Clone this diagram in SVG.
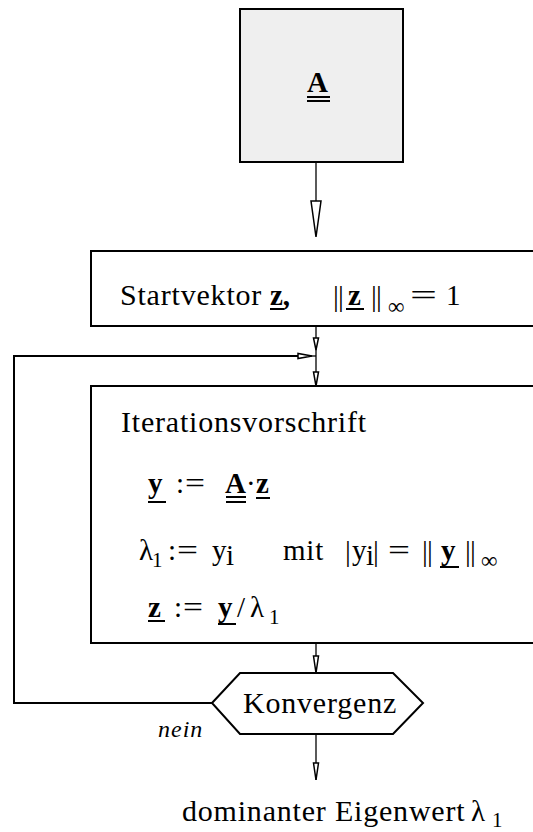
<svg xmlns="http://www.w3.org/2000/svg" width="533" height="832" viewBox="0 0 533 832">
  <style>
    .t { font-family: "Liberation Serif", "Times New Roman", serif; font-size: 30px; fill: #000; letter-spacing: 0.8px; }
    .m { font-family: "Liberation Serif", "Times New Roman", serif; font-size: 29px; fill: #000; }
    .b { font-weight: bold; }
    .sub { font-size: 21px; }
    .inf { font-family: "Liberation Serif", "DejaVu Serif", serif; font-size: 23px; }
    .it { font-style: italic; font-size: 24px; letter-spacing: 1px; }
    .box { fill: #fff; stroke: #000; stroke-width: 2; }
    .ul { stroke: #000; stroke-width: 2; }
    .wire { fill: none; stroke: #000; stroke-width: 1.3; }
    .loop { fill: none; stroke: #000; stroke-width: 2; }
    .head { fill: #fff; stroke: #000; stroke-width: 1.5; stroke-linejoin: miter; }
  </style>

  <!-- matrix A -->
  <g id="matrix">
    <rect x="240" y="9" width="163" height="153" fill="#efefef" stroke="#000" stroke-width="2"/>
    <text class="m b" x="307" y="92" font-size="30">A</text>
    <line class="ul" x1="307" y1="97" x2="330" y2="97"/>
    <line class="ul" x1="307" y1="101" x2="330" y2="101"/>
  </g>

  <!-- start vector -->
  <g id="start">
    <rect class="box" x="91" y="251" width="460" height="75"/>
    <text class="t" x="120" y="305">Startvektor</text>
    <text class="m b" x="270" y="305">z,</text>
    <line class="ul" x1="270" y1="309" x2="284" y2="309"/>
    <text class="m" x="333" y="306" font-size="33">|</text>
    <text class="m" x="338" y="306" font-size="33">|</text>
    <text class="m b" x="348" y="305">z</text>
    <line class="ul" x1="346" y1="309" x2="364" y2="309"/>
    <text class="m" x="371" y="306" font-size="33">|</text>
    <text class="m" x="376" y="306" font-size="33">|</text>
    <text class="inf" x="388" y="314">∞</text>
    <text class="m" x="410" y="305" textLength="27" lengthAdjust="spacingAndGlyphs">=</text>
    <text class="m" x="446" y="305">1</text>
  </g>

  <!-- iteration rule -->
  <g id="iteration">
    <rect class="box" x="91" y="386" width="460" height="257"/>
    <text class="t" x="121" y="432">Iterationsvorschrift</text>

    <!-- y := A·z -->
    <text class="m b" x="148" y="493">y</text>
    <line class="ul" x1="148" y1="502" x2="166" y2="502"/>
    <text class="m" x="176" y="493">:</text>
    <text class="m" x="185" y="493" textLength="20" lengthAdjust="spacingAndGlyphs">=</text>
    <text class="m b" x="225" y="493">A</text>
    <line class="ul" x1="226" y1="497" x2="246" y2="497"/>
    <line class="ul" x1="226" y1="502" x2="246" y2="502"/>
    <text class="m" x="246" y="493" font-size="22">·</text>
    <text class="m b" x="256" y="493">z</text>
    <line class="ul" x1="256" y1="498" x2="270" y2="498"/>

    <!-- λ1 := yi mit |yi| = ||y||∞ -->
    <text class="m" x="139" y="560">λ</text>
    <text class="m sub" x="152" y="567">1</text>
    <text class="m" x="168" y="560">:</text>
    <text class="m" x="177" y="560" textLength="21" lengthAdjust="spacingAndGlyphs">=</text>
    <text class="m" x="212" y="560">y</text>
    <text class="m" x="226" y="565" font-size="18">i</text>
    <text class="m" x="283" y="560" letter-spacing="0.8">mit</text>
    <text class="m" x="345" y="561">|</text>
    <text class="m" x="352" y="560">y</text>
    <text class="m" x="366" y="565" font-size="18">i</text>
    <text class="m" x="373" y="561">|</text>
    <text class="m" x="388" y="560" textLength="22" lengthAdjust="spacingAndGlyphs">=</text>
    <text class="m" x="422" y="561" font-size="33">|</text>
    <text class="m" x="427" y="561" font-size="33">|</text>
    <text class="m b" x="441" y="560">y</text>
    <line class="ul" x1="440" y1="567" x2="459" y2="567"/>
    <text class="m" x="465" y="561" font-size="33">|</text>
    <text class="m" x="470" y="561" font-size="33">|</text>
    <text class="inf" x="481" y="568">∞</text>

    <!-- z := y/λ1 -->
    <text class="m b" x="148" y="617">z</text>
    <line class="ul" x1="148" y1="621" x2="165" y2="621"/>
    <text class="m" x="174" y="617">:</text>
    <text class="m" x="183" y="617" textLength="20" lengthAdjust="spacingAndGlyphs">=</text>
    <text class="m b" x="218" y="617">y</text>
    <line class="ul" x1="218" y1="624" x2="236" y2="624"/>
    <text class="m" x="237" y="617">/</text>
    <text class="m" x="250" y="617">λ</text>
    <text class="m sub" x="269" y="624">1</text>
  </g>

  <!-- convergence test -->
  <g id="convergence">
    <polygon points="212,703 240,673 393,673 423,703 393,734 240,734" fill="#fff" stroke="#000" stroke-width="2"/>
    <text class="t" x="243" y="713">Konvergenz</text>
  </g>

  <g id="label-nein">
    <text class="m it" x="158" y="737">nein</text>
  </g>

  <!-- result -->
  <g id="result">
    <text class="t" x="182" y="821">dominanter Eigenwert</text>
    <text class="m" x="471" y="821" font-size="30">λ</text>
    <text class="m sub" x="492" y="827">1</text>
  </g>

  <!-- connectors -->
  <g id="connectors">
    <!-- A to start vector -->
    <line class="wire" x1="316" y1="162" x2="316" y2="201"/>
    <polygon class="head" points="311,201 321,201 316,237"/>

    <!-- start vector to iteration -->
    <line class="wire" x1="316" y1="326" x2="316" y2="386"/>
    <polygon class="head" points="313.5,338 318.5,338 316,350"/>
    <polygon class="head" points="313.5,372 318.5,372 316,386"/>

    <!-- loop back (nein) -->
    <polyline class="loop" points="212,703 14,703 14,356 298,356"/>
    <line class="wire" x1="311" y1="356" x2="316" y2="356"/>
    <polygon class="head" points="298,353.5 298,358.5 312,356"/>

    <!-- iteration to convergence test -->
    <line class="wire" x1="316" y1="643" x2="316" y2="673"/>
    <polygon class="head" points="313.5,656 318.5,656 316,673"/>

    <!-- convergence test to result -->
    <line class="wire" x1="316" y1="734" x2="316" y2="780"/>
    <polygon class="head" points="313.5,763 318.5,763 316,780"/>
  </g>
</svg>
